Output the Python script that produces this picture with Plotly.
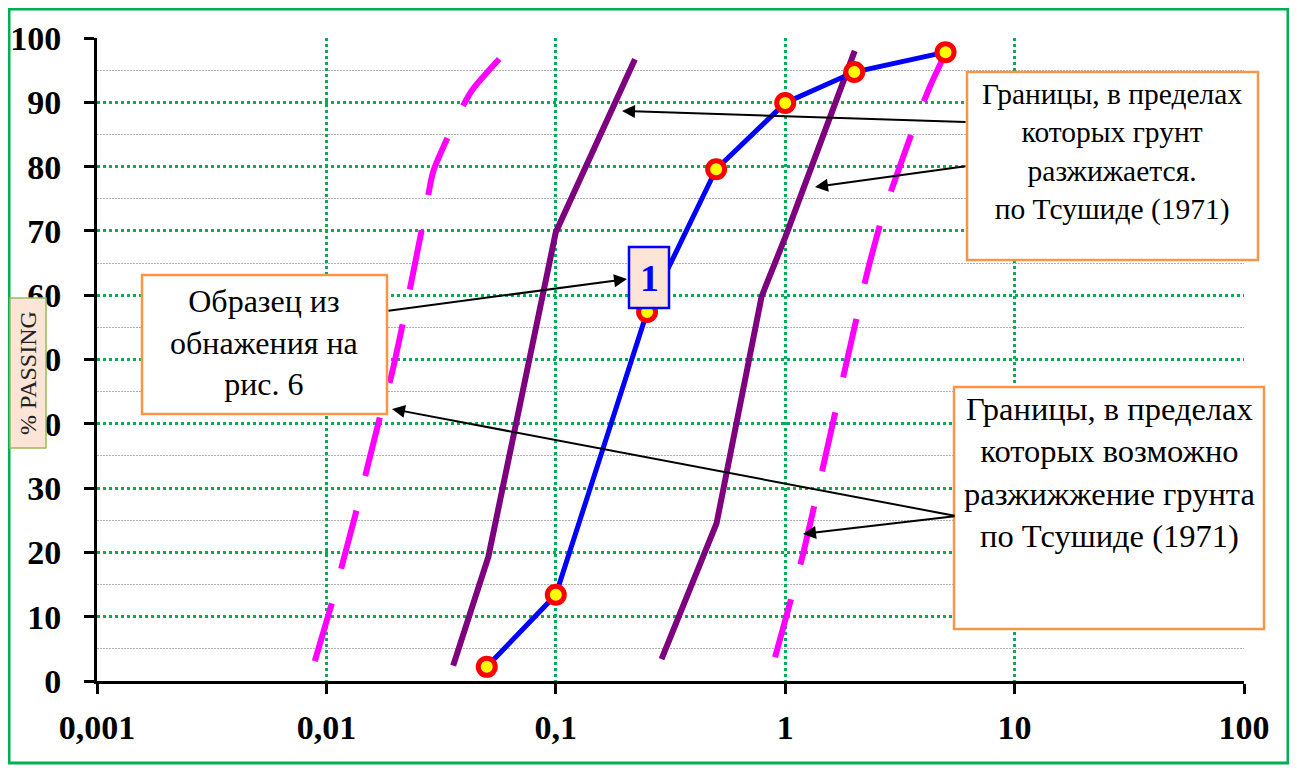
import plotly.graph_objects as go

# ---------------- data ----------------
sample_x = [0.05, 0.1, 0.25, 0.5, 1, 2, 5]
sample_y = [2.2, 13.4, 57.4, 79.6, 89.9, 94.7, 97.8]

liq_left_x = [0.0357, 0.0508, 0.1, 0.2213]
liq_left_y = [2.4, 19.3, 69.8, 96.7]
liq_right_x = [0.289, 0.502, 0.789, 1.0, 2.01]
liq_right_y = [3.4, 24.5, 59.8, 69.0, 98.0]

poss_left_x = [0.0089, 0.0107, 0.0117, 0.0138, 0.0171, 0.0192, 0.0220, 0.0269, 0.0292, 0.0364, 0.043, 0.0611]
poss_left_y = [3.1, 12.8, 18.0, 27.7, 41.0, 47.5, 57.2, 72.7, 79.2, 87.0, 91.8, 98.0]
poss_right_x = [0.903, 1.067, 1.2, 1.82, 2.27, 2.68, 3.01, 3.74, 4.28, 4.9]
poss_right_y = [3.7, 13.1, 19.9, 48.4, 63.3, 72.8, 77.9, 87.3, 92.5, 97.0]

x_tickvals = [0.001, 0.01, 0.1, 1, 10, 100]
x_ticktext = ["0,001", "0,01", "0,1", "1", "10", "100"]
y_tickvals = list(range(0, 101, 10))
y_minorvals = list(range(5, 100, 10))

# ---------------- layout helpers (reference pixel -> paper) ----------------
OFF = 8                      # page body margin of the html page
W, H = 1297 - OFF, 771 - OFF
L, R, T, B = 97, 1244, 38, 681   # plot area in page pixels


def px(x):
    return (x - L) / (R - L)


def py(y):
    return (B - y) / (B - T)


SERIF = "Liberation Serif"
MAGENTA = "#FF00FF"
PURPLE = "#7F007F"
BLUE = "#0000FF"
GREEN = "#00B050"
ORANGE = "#F79646"
PEACH = "#FCE4D6"

fig = go.Figure()

dash_pat = "60px,36px"
for xs, ys in [(poss_left_x, poss_left_y), (poss_right_x, poss_right_y)]:
    fig.add_trace(go.Scatter(x=xs, y=ys, mode="lines",
                             line=dict(color=MAGENTA, width=6, dash=dash_pat, shape="spline", smoothing=0.6),
                             showlegend=False, hoverinfo="skip"))
for xs, ys in [(liq_left_x, liq_left_y), (liq_right_x, liq_right_y)]:
    fig.add_trace(go.Scatter(x=xs, y=ys, mode="lines",
                             line=dict(color=PURPLE, width=6),
                             showlegend=False, hoverinfo="skip"))
fig.add_trace(go.Scatter(x=sample_x, y=sample_y, mode="lines+markers",
                         line=dict(color=BLUE, width=5),
                         marker=dict(size=17, color="#FFFF00", line=dict(color="#FF0000", width=5)),
                         showlegend=False, hoverinfo="skip"))

tick_font = dict(family=SERIF, size=34, color="black", weight="bold")
fig.update_xaxes(type="log", range=[-3, 2], tickvals=x_tickvals, ticktext=x_ticktext,
                 showgrid=True, gridcolor=GREEN, griddash="3px,3px", gridwidth=2.5,
                 showline=True, linecolor="black", linewidth=3,
                 ticks="outside", ticklen=10, tickwidth=3, tickcolor="black",
                 tickfont=tick_font, ticklabelstandoff=4,
                 zeroline=False, automargin=False)
fig.update_yaxes(range=[0, 100], tickvals=y_tickvals,
                 showgrid=True, gridcolor=GREEN, griddash="3px,3px", gridwidth=2.5,
                 minor=dict(tickvals=y_minorvals, showgrid=True, gridcolor="#B0B0B0",
                            griddash="2px,1px", gridwidth=1, ticks=""),
                 showline=True, linecolor="black", linewidth=3,
                 ticks="outside", ticklen=10, tickwidth=3, tickcolor="black",
                 tickfont=tick_font, ticklabelstandoff=16,
                 zeroline=False, automargin=False)

shapes = []
# outer green frame
shapes.append(dict(type="rect", xref="paper", yref="paper", x0=px(9), x1=px(1288), y0=py(763), y1=py(9),
                   line=dict(color=GREEN, width=3), fillcolor="rgba(0,0,0,0)", layer="above"))
# text boxes
boxes = [(967, 72, 1258, 260), (954, 387, 1264, 629), (142, 275, 387, 414)]
for (x0, y0, x1, y1) in boxes:
    shapes.append(dict(type="rect", xref="paper", yref="paper", x0=px(x0), x1=px(x1), y0=py(y1), y1=py(y0),
                       line=dict(color=ORANGE, width=2.5), fillcolor="white", layer="above"))
# label "1"
shapes.append(dict(type="rect", xref="paper", yref="paper", x0=px(629), x1=px(669), y0=py(308), y1=py(247),
                   line=dict(color=BLUE, width=2.5), fillcolor=PEACH, layer="above"))
# y title box
shapes.append(dict(type="rect", xref="paper", yref="paper", x0=px(10), x1=px(46), y0=py(448), y1=py(298),
                   line=dict(color="#9BBB59", width=1.5), fillcolor=PEACH, layer="above"))

ann = []
C = dict(xanchor="center", yanchor="middle", showarrow=False, xref="paper", yref="paper", align="center")
ann.append(dict(C, x=px(1112), y=py(152),
                text="Границы, в пределах<br>которых грунт<br>разжижается.<br>по Тсушиде (1971)",
                font=dict(family=SERIF, size=29.5, color="black")))
ann.append(dict(C, x=px(1109), y=py(473),
                text="Границы, в пределах<br>которых возможно<br>разжижжение грунта<br>по Тсушиде (1971)",
                font=dict(family=SERIF, size=32.5, color="black")))
ann.append(dict(C, x=px(264), y=py(342),
                text="Образец из<br>обнажения на<br>рис. 6",
                font=dict(family=SERIF, size=32, color="black")))
ann.append(dict(C, x=px(649), y=py(278),
                text="<b>1</b>", font=dict(family=SERIF, size=38, color=BLUE)))
ann.append(dict(C, x=px(28), y=py(373),
                text="% PASSING", textangle=-90, font=dict(family=SERIF, size=24, color="#222222")))

arrows = [((967, 122), (622, 111)), ((967, 166), (815, 187)), ((387, 311), (627, 279)),
          ((956, 516), (392, 409)), ((956, 516), (803, 534))]
for (tx, ty), (hx, hy) in arrows:
    ann.append(dict(xref="paper", yref="paper", x=px(hx), y=py(hy), ax=tx - hx, ay=ty - hy,
                    text="", showarrow=True, arrowhead=2, arrowsize=1.3, arrowwidth=2,
                    arrowcolor="black", standoff=0))

fig.update_layout(width=W, height=H, autosize=False,
                  margin=dict(l=L - OFF, r=W - (R - OFF), t=T - OFF, b=H - (B - OFF), pad=0, autoexpand=False),
                  plot_bgcolor="white", paper_bgcolor="white",
                  shapes=shapes, annotations=ann, showlegend=False)

fig.write_html("out.html")
